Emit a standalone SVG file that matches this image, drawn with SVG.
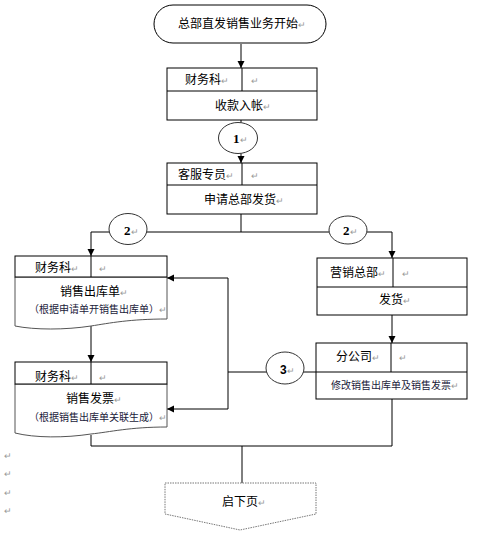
<svg xmlns="http://www.w3.org/2000/svg" width="485" height="535" viewBox="0 0 485 535">
<defs>
<style>
text{font-family:"Liberation Sans","Noto Sans CJK SC",sans-serif;font-size:12px;fill:#000}
.s{font-size:10px;fill:#1a1a3a}
.r{fill:#999;font-size:9px}
.n{font-family:"Liberation Serif","Noto Sans CJK SC",serif;font-weight:bold;font-size:13px}
.box{fill:#fff;stroke:#000;stroke-width:1}
.doc{fill:#fff;stroke:#555;stroke-width:1}
.c{fill:none;stroke:#000;stroke-width:1}
.circ{fill:#fff;stroke:#333;stroke-width:1}
</style>
<marker id="a" markerUnits="userSpaceOnUse" markerWidth="8" markerHeight="8" refX="7" refY="4" orient="auto">
<path d="M0,0.5 L7,4 L0,7.5 Z" fill="#000"/>
</marker>
</defs>
<g id="connectors">
<path class="c" d="M241,44 V68" marker-end="url(#a)"/>
<path class="c" d="M241,120 V163" marker-end="url(#a)"/>
<path class="c" d="M241,214 V232"/>
<path class="c" d="M241,232 H91 V256" marker-end="url(#a)"/>
<path class="c" d="M241,232 H392 V258" marker-end="url(#a)"/>
<path class="c" d="M392,315 V343" marker-end="url(#a)"/>
<path class="c" d="M91,326 V362" marker-end="url(#a)"/>
<path class="c" d="M316,372 H228"/>
<path class="c" d="M228,278 V409"/>
<path class="c" d="M228,278 H167" marker-end="url(#a)"/>
<path class="c" d="M228,409 H167" marker-end="url(#a)"/>
<path class="c" d="M91,435 V446 H392 V399"/>
<path class="c" d="M242,446 V483"/>
</g>
<g id="start">
<rect x="154" y="5" width="172" height="38" rx="19" ry="19" class="box"/>
<text x="178" y="28">总部直发销售业务开始<tspan class="r">↵</tspan></text>
</g>
<g id="n1">
<rect x="167" y="68" width="150" height="52" class="box"/>
<path class="c" d="M167,91 H317 M242,68 V91"/>
<text x="185" y="84">财务科<tspan class="r">↵</tspan></text>
<text x="251" y="84" class="r">↵</text>
<text x="215" y="110">收款入帐<tspan class="r">↵</tspan></text>
</g>
<g id="c1">
<ellipse cx="238" cy="138" rx="19.5" ry="15.5" class="circ"/>
<text x="233" y="143" class="n">1<tspan class="r" font-weight="normal">↵</tspan></text>
</g>
<g id="n2">
<rect x="167" y="163" width="150" height="51" class="box"/>
<path class="c" d="M167,185 H317 M242,163 V185"/>
<text x="178" y="179">客服专员<tspan class="r">↵</tspan></text>
<text x="251" y="179" class="r">↵</text>
<text x="204" y="204">申请总部发货<tspan class="r">↵</tspan></text>
</g>
<g id="c2a">
<ellipse cx="128" cy="229" rx="19" ry="15.5" class="circ"/>
<text x="124" y="235" class="n">2<tspan class="r" font-weight="normal">↵</tspan></text>
</g>
<g id="c2b">
<ellipse cx="348" cy="230" rx="19" ry="14" class="circ"/>
<text x="343" y="235" class="n">2<tspan class="r" font-weight="normal">↵</tspan></text>
</g>
<g id="n3">
<path class="doc" d="M15,277 H167 V319 C130,319 110,323 91,326 C65,330 35,330 15,326 Z"/>
<rect x="15" y="256" width="152" height="21" class="box"/>
<path class="c" d="M91,256 V277"/>
<text x="35" y="272">财务科<tspan class="r">↵</tspan></text>
<text x="99" y="272" class="r">↵</text>
<text x="60" y="296">销售出库单<tspan class="r">↵</tspan></text>
<text x="29" y="313" class="s">（根据申请单开销售出库单）<tspan class="r">↵</tspan></text>
</g>
<g id="n4">
<rect x="317" y="258" width="150" height="57" class="box"/>
<path class="c" d="M317,287 H467 M393,258 V287"/>
<text x="330" y="277">营销总部<tspan class="r">↵</tspan></text>
<text x="402" y="277" class="r">↵</text>
<text x="379" y="304">发货<tspan class="r">↵</tspan></text>
</g>
<g id="n5">
<path class="doc" d="M15,384 H167 V427 C130,427 110,432 91,434 C65,438 35,438 15,433 Z"/>
<rect x="15" y="362" width="152" height="22" class="box"/>
<path class="c" d="M91,362 V384"/>
<text x="35" y="381">财务科<tspan class="r">↵</tspan></text>
<text x="99" y="381" class="r">↵</text>
<text x="66" y="403">销售发票<tspan class="r">↵</tspan></text>
<text x="29" y="421" class="s">（根据销售出库单关联生成）<tspan class="r">↵</tspan></text>
</g>
<g id="n6">
<rect x="316" y="343" width="151" height="56" class="box"/>
<path class="c" d="M316,372 H467 M391,343 V372"/>
<text x="336" y="361">分公司<tspan class="r">↵</tspan></text>
<text x="399" y="361" class="r">↵</text>
<text x="331" y="389" class="s">修改销售出库单及销售发票<tspan class="r">↵</tspan></text>
</g>
<g id="c3">
<ellipse cx="285" cy="368" rx="19" ry="16" class="circ"/>
<text x="280" y="374" style="font-weight:bold;font-size:12px">3<tspan class="r" font-weight="normal">↵</tspan></text>
</g>
<g id="offpage">
<path d="M165,483 H316 V514 L240,530 L165,514 Z" fill="#fff" stroke="#777" stroke-width="1" stroke-dasharray="1.5,1"/>
<text x="222" y="506">启下页<tspan class="r">↵</tspan></text>
</g>
<g id="marks">
<text x="4" y="459" class="r">↵</text>
<text x="4" y="477" class="r">↵</text>
<text x="4" y="496" class="r">↵</text>
<text x="4" y="514" class="r">↵</text>
</g>
</svg>
